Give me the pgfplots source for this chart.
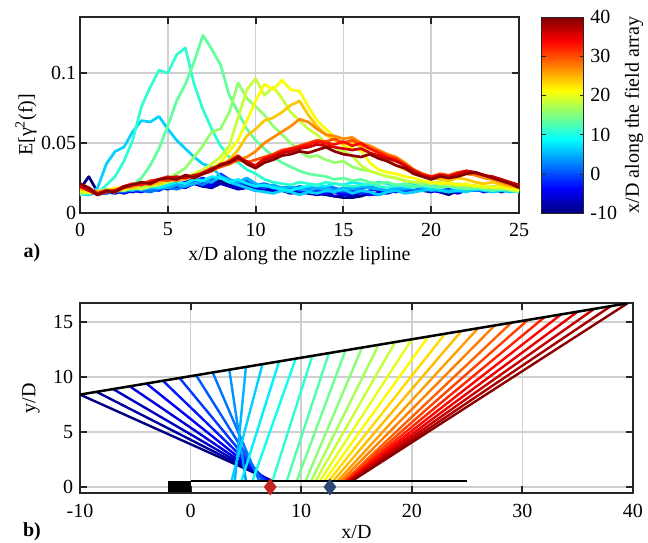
\documentclass[border=0pt]{standalone}
\usepackage{fontspec}
\setmainfont{Liberation Serif}
\usepackage{pgfplots}
\pgfplotsset{compat=1.18}
\definecolor{axgray}{RGB}{38,38,38}
\definecolor{gridgray}{RGB}{208,208,208}
\definecolor{dred}{RGB}{192,38,30}
\definecolor{dblue}{RGB}{44,72,115}
% jet colours (MATLAB jet) for a value in [0,1000]
\newcommand\jetcolor[1]{%
  \pgfmathsetmacro\jv{#1/1000}%
  \pgfmathsetmacro\jr{max(0,min(1,min(4*\jv-1.5,-4*\jv+4.5)))}%
  \pgfmathsetmacro\jg{max(0,min(1,min(4*\jv-0.5,-4*\jv+3.5)))}%
  \pgfmathsetmacro\jb{max(0,min(1,min(4*\jv+0.5,-4*\jv+2.5)))}%
  \xglobal\definecolor{jet#1}{rgb}{\jr,\jg,\jb}}
\foreach \v in {0,30,60,90,120,150,180,210,240,270,300,330,360,390,420,450,470,480,510,520,540,570,600,620,630,660,680,690,720,740,750,780,800,810,840,860,870,900,920,930,960,990}{\jetcolor{\v}}
\pgfplotsset{
  /pgf/number format/assume math mode=true,
  mystyle/.style={
    scale only axis,
    axis line style={line width=2pt, draw=axgray},
    tick align=inside,
    tick pos=both,
    major tick length=7pt,
    every tick/.append style={line width=2pt, draw=axgray},
    grid=major,
    major grid style={line width=1.5pt, draw=gridgray},
    colormap/jet,
    point meta min=-10, point meta max=40,
  },
}
\begin{document}
\fontsize{20}{24}\selectfont
\begin{tikzpicture}
\path[use as bounding box] (0,0) rectangle (648pt,542pt);
% ---------------- top axis ----------------
\begin{axis}[mystyle, at={(80pt,329pt)}, anchor=south west, width=439pt, height=196pt,
  xmin=0, xmax=25, ymin=0, ymax=0.14,
  xtick={0,5,10,15,20,25}, ytick={0,0.05,0.1}, yticklabels={0,0.05,0.1},
  xticklabel style={yshift=-3pt}, yticklabel style={xshift=3pt},
  xlabel={x/D along the nozzle lipline},
  xlabel style={at={(axis description cs:0.5,-0.22)}, anchor=center},
  ylabel={E[γ\textsuperscript{2}(f)]},
  ylabel style={at={(axis description cs:-0.123,0.45)}, anchor=center},
  every axis plot/.append style={line width=2.7pt, line join=round},
  colorbar,
  colorbar/width=42pt,
  colorbar style={
    at={(parent axis.north east)}, anchor=north west, xshift=14pt,
    height=196pt,
    ytick={-10,0,10,20,30,40},
    axis line style={line width=0.8pt, draw=axgray},
    tick align=inside, major tick length=4pt,
    every tick/.append style={line width=0.6pt, draw=axgray},
    ylabel={x/D along the field array},
    ylabel style={at={(axis description cs:2.2,0.5)}, anchor=center},
  },
]
\addplot[draw=jet0] coordinates {(0,.017)(.5,.026)(1,.015)(1.5,.014)(2,.016)(2.5,.015)(3,.017)(3.5,.016)(4,.018)(4.5,.017)(5,.019)(5.5,.020)(6,.022)(6.5,.021)(7,.019)(7.5,.020)(8,.023)(8.5,.020)(9,.018)(9.5,.019)(10,.017)(10.5,.018)(11,.016)(11.5,.017)(12,.016)(12.5,.015)(13,.016)(13.5,.014)(14,.013)(14.5,.012)(15,.011)(15.5,.011)(16,.012)(16.5,.014)(17,.013)(17.5,.015)(18,.016)(18.5,.015)(19,.016)(19.5,.018)(20,.017)(20.5,.015)(21,.013)(21.5,.016)(22,.018)(22.5,.017)(23,.019)(23.5,.018)(24,.017)(24.5,.016)(25,.017)};
\addplot[draw=jet60] coordinates {(0,.015)(.5,.017)(1,.014)(1.5,.015)(2,.014)(2.5,.016)(3,.015)(3.5,.017)(4,.016)(4.5,.018)(5,.017)(5.5,.019)(6,.018)(6.5,.021)(7,.019)(7.5,.018)(8,.021)(8.5,.019)(9,.017)(9.5,.018)(10,.016)(10.5,.017)(11,.015)(11.5,.016)(12,.014)(12.5,.015)(13,.014)(13.5,.013)(14,.014)(14.5,.012)(15,.013)(15.5,.012)(16,.014)(16.5,.013)(17,.015)(17.5,.014)(18,.016)(18.5,.015)(19,.017)(19.5,.016)(20,.015)(20.5,.017)(21,.016)(21.5,.014)(22,.016)(22.5,.018)(23,.016)(23.5,.017)(24,.015)(24.5,.017)(25,.016)};
\addplot[draw=jet120] coordinates {(0,.014)(.5,.016)(1,.013)(1.5,.015)(2,.016)(2.5,.014)(3,.016)(3.5,.015)(4,.017)(4.5,.019)(5,.018)(5.5,.020)(6,.022)(6.5,.024)(7,.021)(7.5,.020)(8,.026)(8.5,.022)(9,.019)(9.5,.021)(10,.018)(10.5,.020)(11,.017)(11.5,.016)(12,.018)(12.5,.016)(13,.015)(13.5,.016)(14,.014)(14.5,.015)(15,.013)(15.5,.014)(16,.015)(16.5,.013)(17,.014)(17.5,.016)(18,.015)(18.5,.017)(19,.016)(19.5,.018)(20,.016)(20.5,.015)(21,.017)(21.5,.015)(22,.016)(22.5,.017)(23,.015)(23.5,.016)(24,.018)(24.5,.016)(25,.015)};
\addplot[draw=jet180] coordinates {(0,.016)(.5,.015)(1,.014)(1.5,.016)(2,.015)(2.5,.017)(3,.016)(3.5,.018)(4,.017)(4.5,.016)(5,.019)(5.5,.021)(6,.020)(6.5,.023)(7,.025)(7.5,.022)(8,.028)(8.5,.024)(9,.020)(9.5,.022)(10,.019)(10.5,.018)(11,.020)(11.5,.017)(12,.018)(12.5,.016)(13,.017)(13.5,.016)(14,.015)(14.5,.017)(15,.015)(15.5,.016)(16,.014)(16.5,.016)(17,.017)(17.5,.015)(18,.017)(18.5,.016)(19,.015)(19.5,.017)(20,.016)(20.5,.018)(21,.016)(21.5,.015)(22,.017)(22.5,.016)(23,.018)(23.5,.017)(24,.016)(24.5,.017)(25,.016)};
\addplot[draw=jet240] coordinates {(0,.013)(.5,.015)(1,.016)(1.5,.014)(2,.016)(2.5,.015)(3,.017)(3.5,.016)(4,.015)(4.5,.017)(5,.018)(5.5,.017)(6,.019)(6.5,.022)(7,.020)(7.5,.024)(8,.026)(8.5,.023)(9,.021)(9.5,.024)(10,.020)(10.5,.021)(11,.019)(11.5,.018)(12,.017)(12.5,.019)(13,.018)(13.5,.017)(14,.019)(14.5,.018)(15,.016)(15.5,.018)(16,.017)(16.5,.019)(17,.018)(17.5,.017)(18,.016)(18.5,.018)(19,.017)(19.5,.016)(20,.018)(20.5,.017)(21,.016)(21.5,.018)(22,.017)(22.5,.016)(23,.017)(23.5,.016)(24,.018)(24.5,.017)(25,.016)};
\addplot[draw=jet300] coordinates {(0,.014)(.5,.013)(1,.015)(1.5,.016)(2,.015)(2.5,.017)(3,.016)(3.5,.018)(4,.017)(4.5,.019)(5,.018)(5.5,.020)(6,.019)(6.5,.021)(7,.023)(7.5,.022)(8,.026)(8.5,.024)(9,.022)(9.5,.025)(10,.021)(10.5,.019)(11,.020)(11.5,.018)(12,.019)(12.5,.017)(13,.016)(13.5,.018)(14,.017)(14.5,.016)(15,.018)(15.5,.017)(16,.019)(16.5,.018)(17,.017)(17.5,.016)(18,.018)(18.5,.017)(19,.019)(19.5,.018)(20,.016)(20.5,.017)(21,.015)(21.5,.017)(22,.016)(22.5,.018)(23,.017)(23.5,.016)(24,.017)(24.5,.018)(25,.016)};
\addplot[draw=jet330] coordinates {(0,.014)(.5,.013)(1,.018)(1.5,.035)(2,.044)(2.5,.047)(3,.058)(3.5,.066)(4,.065)(4.5,.069)(5,.060)(5.5,.052)(6,.046)(6.5,.040)(7,.035)(7.5,.033)(8,.026)(8.5,.022)(9,.020)(9.5,.018)(10,.016)(10.5,.015)(11,.014)(11.5,.016)(12,.015)(12.5,.013)(13,.015)(13.5,.014)(14,.016)(14.5,.015)(15,.017)(15.5,.014)(16,.016)(16.5,.015)(17,.013)(17.5,.015)(18,.016)(18.5,.014)(19,.015)(19.5,.016)(20,.017)(20.5,.016)(21,.015)(21.5,.016)(22,.015)(22.5,.017)(23,.016)(23.5,.015)(24,.016)(24.5,.015)(25,.016)};
\addplot[draw=jet360] coordinates {(0,.013)(.5,.014)(1,.016)(1.5,.015)(2,.017)(2.5,.016)(3,.018)(3.5,.017)(4,.019)(4.5,.018)(5,.020)(5.5,.022)(6,.021)(6.5,.024)(7,.023)(7.5,.026)(8,.025)(8.5,.022)(9,.024)(9.5,.021)(10,.019)(10.5,.020)(11,.018)(11.5,.017)(12,.016)(12.5,.018)(13,.019)(13.5,.020)(14,.019)(14.5,.021)(15,.020)(15.5,.022)(16,.021)(16.5,.020)(17,.022)(17.5,.021)(18,.019)(18.5,.020)(19,.021)(19.5,.019)(20,.018)(20.5,.020)(21,.019)(21.5,.017)(22,.019)(22.5,.018)(23,.017)(23.5,.019)(24,.018)(24.5,.017)(25,.016)};
\addplot[draw=jet420] coordinates {(0,.015)(.5,.016)(1,.014)(1.5,.020)(2,.026)(2.5,.037)(3,.052)(3.5,.076)(4,.090)(4.5,.102)(5,.100)(5.5,.113)(6,.118)(6.5,.092)(7,.074)(7.5,.060)(8,.048)(8.5,.040)(9,.036)(9.5,.031)(10,.028)(10.5,.024)(11,.022)(11.5,.021)(12,.020)(12.5,.022)(13,.021)(13.5,.020)(14,.022)(14.5,.021)(15,.020)(15.5,.019)(16,.020)(16.5,.021)(17,.019)(17.5,.018)(18,.020)(18.5,.019)(19,.018)(19.5,.020)(20,.019)(20.5,.018)(21,.020)(21.5,.019)(22,.018)(22.5,.017)(23,.019)(23.5,.018)(24,.017)(24.5,.018)(25,.016)};
\addplot[draw=jet470] coordinates {(0,.013)(.5,.015)(1,.014)(1.5,.016)(2,.015)(2.5,.018)(3,.020)(3.5,.025)(4,.034)(4.5,.046)(5,.062)(5.5,.080)(6,.092)(6.5,.108)(7,.127)(7.5,.117)(8,.106)(8.5,.084)(9,.072)(9.5,.060)(10,.052)(10.5,.046)(11,.040)(11.5,.036)(12,.033)(12.5,.030)(13,.028)(13.5,.027)(14,.026)(14.5,.024)(15,.025)(15.5,.023)(16,.024)(16.5,.022)(17,.021)(17.5,.022)(18,.020)(18.5,.021)(19,.019)(19.5,.020)(20,.019)(20.5,.018)(21,.019)(21.5,.018)(22,.017)(22.5,.018)(23,.017)(23.5,.016)(24,.017)(24.5,.016)(25,.015)};
\addplot[draw=jet520] coordinates {(0,.014)(.5,.016)(1,.015)(1.5,.017)(2,.016)(2.5,.018)(3,.017)(3.5,.019)(4,.020)(4.5,.022)(5,.025)(5.5,.028)(6,.032)(6.5,.040)(7,.048)(7.5,.058)(8,.060)(8.5,.072)(9,.093)(9.5,.082)(10,.076)(10.5,.070)(11,.062)(11.5,.056)(12,.050)(12.5,.044)(13,.040)(13.5,.041)(14,.038)(14.5,.036)(15,.037)(15.5,.033)(16,.031)(16.5,.030)(17,.028)(17.5,.026)(18,.025)(18.5,.023)(19,.022)(19.5,.021)(20,.022)(20.5,.020)(21,.021)(21.5,.019)(22,.020)(22.5,.019)(23,.018)(23.5,.019)(24,.017)(24.5,.018)(25,.016)};
\addplot[draw=jet570] coordinates {(0,.015)(.5,.014)(1,.016)(1.5,.015)(2,.017)(2.5,.016)(3,.018)(3.5,.017)(4,.019)(4.5,.020)(5,.022)(5.5,.024)(6,.026)(6.5,.028)(7,.031)(7.5,.035)(8,.040)(8.5,.048)(9,.068)(9.5,.088)(10,.096)(10.5,.084)(11,.090)(11.5,.082)(12,.072)(12.5,.066)(13,.060)(13.5,.056)(14,.050)(14.5,.047)(15,.044)(15.5,.041)(16,.034)(16.5,.030)(17,.028)(17.5,.026)(18,.025)(18.5,.023)(19,.022)(19.5,.023)(20,.021)(20.5,.022)(21,.020)(21.5,.021)(22,.019)(22.5,.020)(23,.018)(23.5,.019)(24,.018)(24.5,.017)(25,.016)};
\addplot[draw=jet620] coordinates {(0,.016)(.5,.015)(1,.014)(1.5,.016)(2,.018)(2.5,.017)(3,.019)(3.5,.020)(4,.022)(4.5,.021)(5,.024)(5.5,.023)(6,.026)(6.5,.027)(7,.029)(7.5,.032)(8,.036)(8.5,.044)(9,.052)(9.5,.066)(10,.080)(10.5,.092)(11,.088)(11.5,.095)(12,.088)(12.5,.087)(13,.076)(13.5,.066)(14,.060)(14.5,.054)(15,.048)(15.5,.046)(16,.045)(16.5,.036)(17,.031)(17.5,.029)(18,.028)(18.5,.026)(19,.025)(19.5,.023)(20,.022)(20.5,.021)(21,.022)(21.5,.020)(22,.021)(22.5,.019)(23,.020)(23.5,.018)(24,.019)(24.5,.017)(25,.016)};
\addplot[draw=jet680] coordinates {(0,.017)(.5,.016)(1,.014)(1.5,.016)(2,.017)(2.5,.019)(3,.018)(3.5,.020)(4,.022)(4.5,.021)(5,.024)(5.5,.025)(6,.024)(6.5,.027)(7,.029)(7.5,.031)(8,.034)(8.5,.038)(9,.045)(9.5,.055)(10,.060)(10.5,.066)(11,.068)(11.5,.072)(12,.077)(12.5,.080)(13,.070)(13.5,.062)(14,.056)(14.5,.052)(15,.049)(15.5,.051)(16,.047)(16.5,.043)(17,.040)(17.5,.037)(18,.034)(18.5,.031)(19,.029)(19.5,.027)(20,.025)(20.5,.024)(21,.023)(21.5,.025)(22,.024)(22.5,.022)(23,.021)(23.5,.022)(24,.020)(24.5,.019)(25,.018)};
\addplot[draw=jet740] coordinates {(0,.018)(.5,.017)(1,.015)(1.5,.016)(2,.015)(2.5,.018)(3,.019)(3.5,.021)(4,.020)(4.5,.023)(5,.024)(5.5,.023)(6,.025)(6.5,.026)(7,.028)(7.5,.030)(8,.033)(8.5,.035)(9,.038)(9.5,.040)(10,.044)(10.5,.050)(11,.054)(11.5,.058)(12,.062)(12.5,.067)(13,.065)(13.5,.060)(14,.056)(14.5,.055)(15,.053)(15.5,.054)(16,.050)(16.5,.048)(17,.045)(17.5,.042)(18,.040)(18.5,.036)(19,.031)(19.5,.028)(20,.026)(20.5,.027)(21,.025)(21.5,.027)(22,.028)(22.5,.027)(23,.025)(23.5,.024)(24,.022)(24.5,.020)(25,.019)};
\addplot[draw=jet800] coordinates {(0,.019)(.5,.018)(1,.014)(1.5,.016)(2,.015)(2.5,.018)(3,.020)(3.5,.021)(4,.022)(4.5,.024)(5,.023)(5.5,.025)(6,.026)(6.5,.025)(7,.028)(7.5,.031)(8,.033)(8.5,.035)(9,.038)(9.5,.036)(10,.038)(10.5,.040)(11,.042)(11.5,.045)(12,.046)(12.5,.048)(13,.050)(13.5,.052)(14,.051)(14.5,.053)(15,.050)(15.5,.052)(16,.049)(16.5,.046)(17,.044)(17.5,.041)(18,.039)(18.5,.035)(19,.031)(19.5,.028)(20,.026)(20.5,.028)(21,.027)(21.5,.029)(22,.030)(22.5,.028)(23,.027)(23.5,.025)(24,.023)(24.5,.021)(25,.020)};
\addplot[draw=jet860] coordinates {(0,.020)(.5,.017)(1,.014)(1.5,.016)(2,.016)(2.5,.019)(3,.021)(3.5,.020)(4,.023)(4.5,.024)(5,.026)(5.5,.024)(6,.027)(6.5,.026)(7,.029)(7.5,.032)(8,.034)(8.5,.037)(9,.041)(9.5,.036)(10,.034)(10.5,.039)(11,.041)(11.5,.044)(12,.046)(12.5,.047)(13,.049)(13.5,.051)(14,.050)(14.5,.049)(15,.051)(15.5,.048)(16,.050)(16.5,.046)(17,.043)(17.5,.040)(18,.038)(18.5,.034)(19,.030)(19.5,.027)(20,.026)(20.5,.027)(21,.026)(21.5,.028)(22,.030)(22.5,.029)(23,.027)(23.5,.025)(24,.024)(24.5,.021)(25,.019)};
\addplot[draw=jet920] coordinates {(0,.019)(.5,.016)(1,.013)(1.5,.015)(2,.016)(2.5,.018)(3,.020)(3.5,.022)(4,.021)(4.5,.024)(5,.025)(5.5,.026)(6,.025)(6.5,.027)(7,.028)(7.5,.030)(8,.035)(8.5,.036)(9,.039)(9.5,.037)(10,.033)(10.5,.038)(11,.040)(11.5,.043)(12,.044)(12.5,.046)(13,.047)(13.5,.049)(14,.048)(14.5,.047)(15,.046)(15.5,.045)(16,.046)(16.5,.043)(17,.041)(17.5,.039)(18,.037)(18.5,.034)(19,.030)(19.5,.027)(20,.025)(20.5,.027)(21,.026)(21.5,.028)(22,.030)(22.5,.029)(23,.027)(23.5,.026)(24,.024)(24.5,.022)(25,.020)};
\addplot[draw=jet990] coordinates {(0,.021)(.5,.018)(1,.013)(1.5,.016)(2,.015)(2.5,.019)(3,.020)(3.5,.022)(4,.021)(4.5,.024)(5,.025)(5.5,.024)(6,.027)(6.5,.025)(7,.028)(7.5,.031)(8,.034)(8.5,.036)(9,.040)(9.5,.035)(10,.032)(10.5,.036)(11,.038)(11.5,.041)(12,.042)(12.5,.044)(13,.043)(13.5,.045)(14,.047)(14.5,.044)(15,.042)(15.5,.041)(16,.040)(16.5,.042)(17,.039)(17.5,.037)(18,.034)(18.5,.032)(19,.028)(19.5,.026)(20,.024)(20.5,.026)(21,.025)(21.5,.026)(22,.028)(22.5,.029)(23,.027)(23.5,.025)(24,.023)(24.5,.021)(25,.018)};
\end{axis}
% ---------------- bottom axis ----------------
\begin{axis}[mystyle, at={(80pt,49pt)}, anchor=south west, width=553pt, height=190pt,
  xmin=-10, xmax=40, ymin=-0.55, ymax=16.73,
  xtick={-10,0,10,20,30,40}, ytick={0,5,10,15},
  xticklabel style={yshift=-4pt},
  xlabel={x/D},
  xlabel style={at={(axis description cs:0.5,-0.205)}, anchor=center},
  ylabel={y/D},
  ylabel style={at={(axis description cs:-0.0886,0.5)}, anchor=center},
  every axis plot/.append style={line width=2.4pt},
]
\addplot[draw=jet0] coordinates {(-10,8.40) (7.4,0.55)};
\addplot[draw=jet30] coordinates {(-8.5,8.65) (7.3,0.55)};
\addplot[draw=jet60] coordinates {(-7,8.90) (7.2,0.55)};
\addplot[draw=jet90] coordinates {(-5.5,9.15) (7.1,0.55)};
\addplot[draw=jet120] coordinates {(-4,9.41) (7.0,0.55)};
\addplot[draw=jet150] coordinates {(-2.5,9.66) (6.9,0.55)};
\addplot[draw=jet180] coordinates {(-1,9.91) (6.7,0.55)};
\addplot[draw=jet210] coordinates {(0.5,10.16) (6.5,0.55)};
\addplot[draw=jet240] coordinates {(2,10.41) (6.2,0.55)};
\addplot[draw=jet270] coordinates {(3.5,10.66) (5.0,0.55)};
\addplot[draw=jet300] coordinates {(5,10.92) (4.0,0.55)};
\addplot[draw=jet330] coordinates {(6.5,11.17) (3.7,0.55)};
\addplot[draw=jet360] coordinates {(8,11.42) (4.6,0.55)};
\addplot[draw=jet390] coordinates {(9.5,11.67) (5.6,0.55)};
\addplot[draw=jet420] coordinates {(11,11.92) (7.4,0.55)};
\addplot[draw=jet450] coordinates {(12.5,12.17) (8.7,0.55)};
\addplot[draw=jet480] coordinates {(14,12.42) (9.6,0.55)};
\addplot[draw=jet510] coordinates {(15.5,12.68) (10.4,0.55)};
\addplot[draw=jet540] coordinates {(17,12.93) (10.9,0.55)};
\addplot[draw=jet570] coordinates {(18.5,13.18) (11.3,0.55)};
\addplot[draw=jet600] coordinates {(20,13.43) (11.7,0.55)};
\addplot[draw=jet630] coordinates {(21.5,13.68) (12.1,0.55)};
\addplot[draw=jet660] coordinates {(23,13.93) (12.5,0.55)};
\addplot[draw=jet690] coordinates {(24.5,14.19) (12.9,0.55)};
\addplot[draw=jet720] coordinates {(26,14.44) (13.3,0.55)};
\addplot[draw=jet750] coordinates {(27.5,14.69) (13.6,0.55)};
\addplot[draw=jet780] coordinates {(29,14.94) (13.9,0.55)};
\addplot[draw=jet810] coordinates {(30.5,15.19) (14.0,0.55)};
\addplot[draw=jet840] coordinates {(32,15.44) (14.1,0.55)};
\addplot[draw=jet870] coordinates {(33.5,15.70) (14.2,0.55)};
\addplot[draw=jet900] coordinates {(35,15.95) (14.3,0.55)};
\addplot[draw=jet930] coordinates {(36.5,16.20) (14.4,0.55)};
\addplot[draw=jet960] coordinates {(38,16.45) (14.5,0.55)};
\addplot[draw=jet990] coordinates {(39.5,16.70) (14.6,0.55)};
% array and lipline
\addplot[black, line width=2.5pt] coordinates {(-10,8.40) (39.5,16.70)};
\addplot[black, line width=2.5pt] coordinates {(0,0.55) (25,0.55)};
\addplot[fill=black, draw=black, line width=0.5pt] coordinates {(-2,-0.4) (0,-0.4) (0,0.55) (-2,0.55)} -- cycle;
\addplot[only marks, mark=diamond*, mark size=6.5pt, color=dred] coordinates {(7.2,0)};
\addplot[only marks, mark=diamond*, mark size=6.5pt, color=dblue] coordinates {(12.6,0)};
\end{axis}
\node[font=\bfseries] at (32pt,289pt) {a)};
\node[font=\bfseries] at (32pt,10pt) {b)};
\end{tikzpicture}
\end{document}
